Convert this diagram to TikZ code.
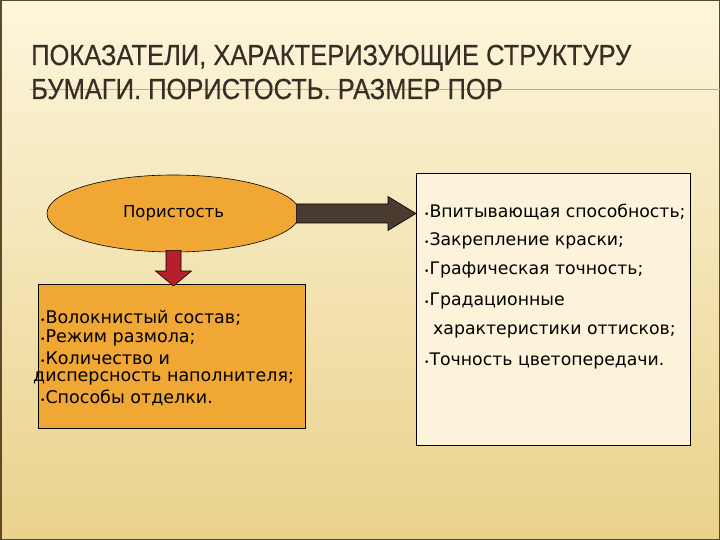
\documentclass[tikz,border=0pt]{standalone}
\usepackage{fontspec}
\setmainfont{DejaVu Sans}
\newfontfamily\titlefont[FakeStretch=0.88,FakeBold=0.4]{Liberation Sans}
\usetikzlibrary{shapes.geometric,calc}
\definecolor{papertop}{HTML}{FDF6DC}
\definecolor{paperbot}{HTML}{EAD28C}
\definecolor{frame}{HTML}{5C4A2A}
\definecolor{titlegray}{HTML}{372F26}
\definecolor{rule}{HTML}{D9A65C}
\definecolor{porange}{HTML}{F0A733}
\definecolor{lightbox}{HTML}{FCF3DA}
\definecolor{darkarrow}{HTML}{4A3B31}
\definecolor{redarrow}{HTML}{B5202B}
\begin{document}
\begin{tikzpicture}[x=1pt,y=-1pt,
    title/.style={anchor=base west,inner sep=0pt,text=titlegray,font=\titlefont\fontsize{29}{32}\selectfont},
    oval/.style={ellipse,draw=black,line width=0.6pt,fill=porange,inner sep=0pt,
      minimum width=253pt,minimum height=77pt,font=\fontsize{16.5}{19}\selectfont},
    panel/.style={rectangle,draw=black,line width=0.6pt,anchor=north west,inner sep=0pt},
    item/.style={anchor=west,inner sep=0pt,font=\fontsize{17.3}{20}\selectfont},
    smallitem/.style={anchor=west,inner sep=0pt,font=\fontsize{17.5}{20}\selectfont},
    blockarrow/.style={draw=black,line width=0.6pt,line join=miter}]
% slide
\useasboundingbox (0,0) rectangle (720,540);
\fill[top color=papertop,bottom color=paperbot] (0,0) rectangle (720,540);
\draw[frame,line width=1.5pt] (0.75,0.75) rectangle (719.25,539.25);
% title
\draw[rule,line width=1pt] (30,90) -- (720,90);
\node[title] (t1) at (31,65) {ПОКАЗАТЕЛИ, ХАРАКТЕРИЗУЮЩИЕ СТРУКТУРУ};
\node[title] (t2) at (31,99) {БУМАГИ. ПОРИСТОСТЬ. РАЗМЕР ПОР};
% blocks
\node[oval] (poro) at (173.5,213.5) {Пористость};
\node[panel,fill=porange,minimum width=267pt,minimum height=144pt] (causes) at (38,284) {};
\node[panel,fill=lightbox,minimum width=274pt,minimum height=272pt] (effects) at (416,173) {};
% arrows
\draw[blockarrow,fill=darkarrow] let \p1=(poro.east), \p2=(effects.west) in
  (\x1-4,\y1+9.5) -- (\x2-28,\y1+9.5) -- (\x2-28,\y1+17) -- (\x2,\y1)
  -- (\x2-28,\y1-17) -- (\x2-28,\y1-9.5) -- (\x1-4,\y1-9.5) -- cycle;
\draw[blockarrow,fill=redarrow] let \p1=(poro.south), \p2=(causes.north) in
  (\x1-7.5,\y1+2) -- (\x1-7.5,\y2+13) -- (\x1-18,\y2+13) -- (\x1,\y2-2)
  -- (\x1+18,\y2+13) -- (\x1+7.5,\y2+13) -- (\x1+7.5,\y1+2) -- cycle;
% left list
\node[smallitem] (c1) at (40,318) {{\small•}Волокнистый состав;};
\node[smallitem] (c2) at (40,338) {{\small•}Режим размола;};
\node[smallitem] (c3) at (40,358) {{\small•}Количество и};
\node[smallitem] (c4) at (33,378) {дисперсность наполнителя;};
\node[smallitem] (c5) at (40,398) {{\small•}Способы отделки.};
% right list
\node[item] (e1) at (424,212) {{\small•}Впитывающая способность;};
\node[item] (e2) at (424,241) {{\small•}Закрепление краски;};
\node[item] (e3) at (424,270) {{\small•}Графическая точность;};
\node[item] (e4) at (424,301) {{\small•}Градационные};
\node[item] (e5) at (433,331) {характеристики оттисков;};
\node[item] (e6) at (424,361) {{\small•}Точность цветопередачи.};
\end{tikzpicture}
\end{document}
